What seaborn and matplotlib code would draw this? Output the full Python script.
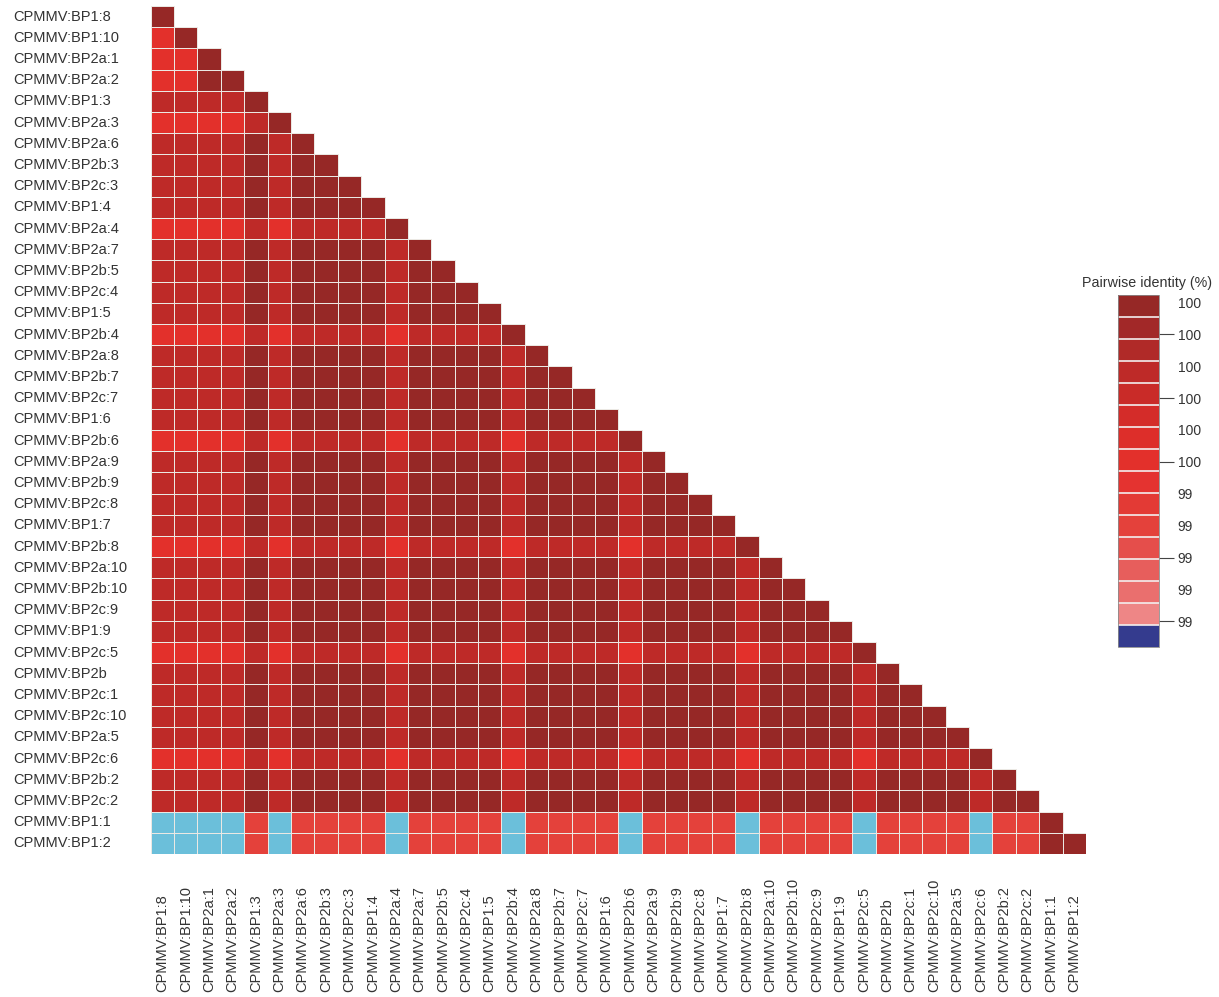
import numpy as np
import pandas as pd
import matplotlib
matplotlib.use("Agg")
import matplotlib.pyplot as plt
from matplotlib.colors import ListedColormap, Normalize, to_rgba
from matplotlib.cm import ScalarMappable
import seaborn as sns

plt.rcParams["font.family"] = ["Liberation Sans", "DejaVu Sans"]

# Isolate names (row order = column order)
isolates = [
    "CPMMV:BP1:8", "CPMMV:BP1:10", "CPMMV:BP2a:1", "CPMMV:BP2a:2", "CPMMV:BP1:3",
    "CPMMV:BP2a:3", "CPMMV:BP2a:6", "CPMMV:BP2b:3", "CPMMV:BP2c:3", "CPMMV:BP1:4",
    "CPMMV:BP2a:4", "CPMMV:BP2a:7", "CPMMV:BP2b:5", "CPMMV:BP2c:4", "CPMMV:BP1:5",
    "CPMMV:BP2b:4", "CPMMV:BP2a:8", "CPMMV:BP2b:7", "CPMMV:BP2c:7", "CPMMV:BP1:6",
    "CPMMV:BP2b:6", "CPMMV:BP2a:9", "CPMMV:BP2b:9", "CPMMV:BP2c:8", "CPMMV:BP1:7",
    "CPMMV:BP2b:8", "CPMMV:BP2a:10", "CPMMV:BP2b:10", "CPMMV:BP2c:9", "CPMMV:BP1:9",
    "CPMMV:BP2c:5", "CPMMV:BP2b", "CPMMV:BP2c:1", "CPMMV:BP2c:10", "CPMMV:BP2a:5",
    "CPMMV:BP2c:6", "CPMMV:BP2b:2", "CPMMV:BP2c:2", "CPMMV:BP1:1", "CPMMV:BP1:2",
]

# Identity classes used in the lower triangle (percent)
class_identity = [100.0, 99.79, 99.55, 99.37, 98.9]

# Lower triangle, one string per row: digit = identity class of each pair
identity_rows = [
    "0",
    "20",
    "220",
    "2200",
    "11110",
    "222210",
    "1111010",
    "11110100",
    "111101000",
    "1111010000",
    "22221211110",
    "111101000010",
    "1111010000100",
    "11110100001000",
    "111101000010000",
    "2222121111211110",
    "11110100001000010",
    "111101000010000100",
    "1111010000100001000",
    "11110100001000010000",
    "222212111121111211110",
    "1111010000100001000010",
    "11110100001000010000100",
    "111101000010000100001000",
    "1111010000100001000010000",
    "22221211112111121111211110",
    "111101000010000100001000010",
    "1111010000100001000010000100",
    "11110100001000010000100001000",
    "111101000010000100001000010000",
    "2222121111211112111121111211110",
    "11110100001000010000100001000010",
    "111101000010000100001000010000100",
    "1111010000100001000010000100001000",
    "11110100001000010000100001000010000",
    "222212111121111211112111121111211110",
    "1111010000100001000010000100001000010",
    "11110100001000010000100001000010000100",
    "444434333343333433334333343333433334330",
    "4444343333433334333343333433334333343300",
]

# Colour scale, low -> high identity
scale_colors = [
    "#ee8686", "#ea6f6e", "#e75e5c", "#e54e4b", "#e4413b",
    "#e33a35", "#e43330", "#e3302b", "#dd2e2a", "#d42c29",
    "#c92b28", "#be2a28", "#b02a28", "#a22828", "#962826",
]
below_range_cell = "#6bbfda"
below_range_key = "#343b8e"
scale_min, scale_max = 99.1, 100.0

n = len(isolates)
matrix = np.full((n, n), np.nan)
for i, row in enumerate(identity_rows):
    assert len(row) == i + 1, (i, len(row))
    for j, ch in enumerate(row):
        matrix[i, j] = class_identity[int(ch)]
df = pd.DataFrame(matrix, index=isolates, columns=isolates)
mask = np.triu(np.ones((n, n), dtype=bool), k=1)

cell_cmap = ListedColormap(scale_colors)
cell_cmap.set_under(below_range_cell)

W, H = 1219, 997
fig = plt.figure(figsize=(W / 100, H / 100), dpi=100)
ax = fig.add_axes([150.7 / W, (H - 854) / H, 935.3 / W, 848 / H])

grid_color = "#ebe8e3"
sns.heatmap(
    df, mask=mask, cmap=cell_cmap, vmin=scale_min, vmax=scale_max,
    cbar=False, linewidths=0.6, linecolor=grid_color,
    xticklabels=isolates, yticklabels=isolates, ax=ax,
)
# Only outline the cells that are drawn (lower triangle)
mesh = ax.collections[0]
edge_rgba = np.tile(to_rgba(grid_color), (n * n, 1))
edge_rgba[mask.ravel()] = (0, 0, 0, 0)
mesh.set_edgecolor(edge_rgba)

label_color = "#333333"
ax.tick_params(axis="y", length=0, pad=99, labelsize=10.5, labelcolor=label_color)
ax.tick_params(axis="x", length=0, pad=99.4, labelsize=10.5, labelcolor=label_color)
for t in ax.get_yticklabels():
    t.set_rotation(0)
    t.set_horizontalalignment("left")
    t.set_verticalalignment("center")
for t in ax.get_xticklabels():
    t.set_rotation(90)
    t.set_horizontalalignment("center")
    t.set_verticalalignment("bottom")

# Colour key
step = (scale_max - scale_min) / len(scale_colors)
key_cmap = ListedColormap([below_range_key] + scale_colors)
key_norm = Normalize(vmin=scale_min - step, vmax=scale_max)
cax = fig.add_axes([1118 / W, (H - 647) / H, 41 / W, 352 / H])
cb = fig.colorbar(ScalarMappable(norm=key_norm, cmap=key_cmap), cax=cax, drawedges=True)
cb.dividers.set_color("#f3eeee")
cb.dividers.set_linewidth(1.2)
cb.outline.set_edgecolor("#8a8a8a")
cb.outline.set_linewidth(0.6)

tick_vals = np.linspace(99.98, 99.11, 11)
cb.set_ticks(tick_vals)
cb.set_ticklabels([f"{v:.0f}" for v in tick_vals])
cax.tick_params(axis="y", length=10.5, width=0.8, color="#444444", pad=3,
                labelsize=10, labelcolor=label_color)
lined = {1: "#444444", 3: "#444444", 5: "#444444", 8: "#d0d0d0", 10: "#444444"}
for k, tick in enumerate(cax.yaxis.get_major_ticks()):
    if k in lined:
        tick.tick2line.set_color(lined[k])
    else:
        tick.tick2line.set_visible(False)
    tick.tick1line.set_visible(False)

fig.text(1147 / W, (H - 283) / H, "Pairwise identity (%)", ha="center", va="center",
         fontsize=10.3, color=label_color)

fig.savefig("out.png", dpi=100, facecolor="white")
